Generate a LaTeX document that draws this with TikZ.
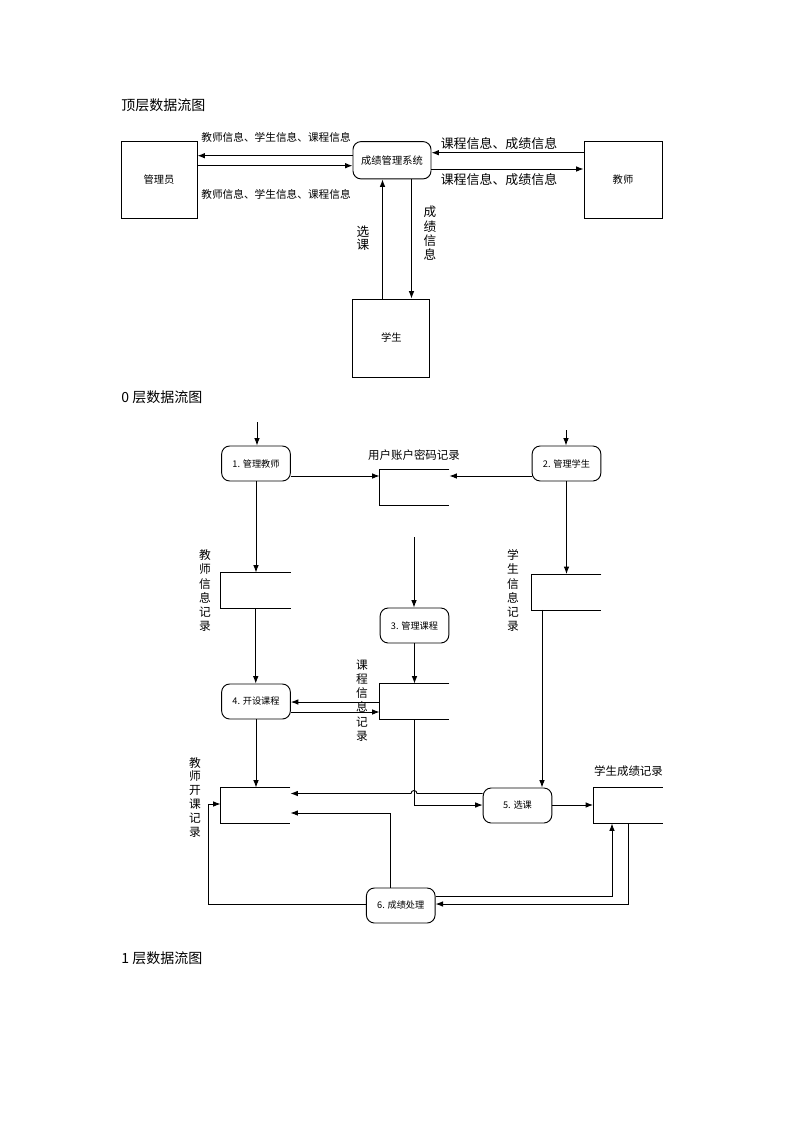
\documentclass[tikz,border=0pt]{standalone}
\usepackage{fontspec}
\setmainfont{Noto Sans CJK SC}
\usetikzlibrary{arrows.meta,calc}
\begin{document}
\begin{tikzpicture}[x=0.75pt,y=-0.75pt, line width=0.7pt,
  arr/.style={-{Latex[length=5.6pt,width=4.2pt]}},
  ent/.style={draw, rectangle, inner sep=0pt, font=\fontsize{7.7}{9}\selectfont},
  proc/.style={draw, rounded corners=6pt, inner sep=0pt, minimum width=51.5pt, minimum height=26.25pt, font=\fontsize{6.9}{8}\selectfont},
  store/.style={inner sep=0pt, minimum width=51.75pt, minimum height=26.25pt},
  vlab/.style={align=center, inner sep=0pt, font=\fontsize{8.8}{10.7}\selectfont},
  lab/.style={inner sep=0pt, font=\fontsize{8.6}{10}\selectfont},
  ttl/.style={anchor=west, inner sep=0pt, font=\fontsize{10.5}{12}\selectfont}]
\useasboundingbox[fill=white] (0,0) rectangle (793,1122);

% ---------- top level ----------
\node[ttl] (t0) at (121,105) {顶层数据流图};
\node[ent, minimum width=57pt, minimum height=57.75pt] (adm) at (159,179.5) {管理员};
\node[ent, minimum width=58.5pt, minimum height=57.75pt] (tch) at (623,179.5) {教师};
\node[ent, rounded corners=6pt, minimum width=58.5pt, minimum height=28pt] (sys) at (392,160.25) {成绩管理系统};
\node[ent, minimum width=57.75pt, minimum height=58.5pt] (stu) at (391.4,338) {学生};

\draw[arr] (sys.west |- 0,155.7) -- (adm.east |- 0,155.7);
\draw[arr] (adm.east |- 0,165.7) -- (sys.west |- 0,165.7);
\draw[arr] (tch.west |- 0,152.7) -- (sys.east |- 0,152.7);
\draw[arr] (sys.east |- 0,169) -- (tch.west |- 0,169);
\draw[arr] (stu.north -| 382.5,0) -- (sys.south -| 382.5,0);
\draw[arr] (sys.south -| 411.5,0) -- (stu.north -| 411.5,0);

\node[inner sep=0pt, font=\fontsize{8}{9}\selectfont] (l1) at (276,137.7) {教师信息、学生信息、课程信息};
\node[inner sep=0pt, font=\fontsize{8}{9}\selectfont] (l2) at (276,194) {教师信息、学生信息、课程信息};
\node[inner sep=0pt, font=\fontsize{9.7}{11}\selectfont] (l3) at (499,144) {课程信息、成绩信息};
\node[inner sep=0pt, font=\fontsize{9.7}{11}\selectfont] (l4) at (499,180) {课程信息、成绩信息};
\node[vlab, font=\fontsize{9.5}{10}\selectfont] (l5) at (363,238.3) {选\\课};
\node[vlab, font=\fontsize{9.5}{10.8}\selectfont] (l6) at (430,233.3) {成\\绩\\信\\息};

% ---------- level 0 ----------
\node[ttl] (t1) at (121,397) {0 层数据流图};

\node[proc] (p1) at (256,463.5) {1. 管理教师};
\node[proc] (p2) at (566.5,463.5) {2. 管理学生};
\node[proc] (p3) at (414.5,625.5) {3. 管理课程};
\node[proc] (p4) at (256,701.5) {4. 开设课程};
\node[proc] (p5) at (517.5,805.5) {5. 选课};
\node[proc] (p6) at (400.75,905.5) {6. 成绩处理};

\node[store] (d1) at (414.5,487.5) {};
\node[store] (d2) at (255.75,590.5) {};
\node[store] (d3) at (566.5,592) {};
\node[store] (d4) at (414.5,701.5) {};
\node[store] (d5) at (255.5,805.5) {};
\node[store] (d6) at (628,805.5) {};
\foreach \n in {d1,d2,d3,d4,d5,d6}
  \draw (\n.north east) -- (\n.north west) -- (\n.south west) -- (\n.south east);

\node[lab] (ld1) at (414,455) {用户账户密码记录};
\node[vlab] (ld2) at (205,590.8) {教\\师\\信\\息\\记\\录};
\node[vlab] (ld3) at (513,590.8) {学\\生\\信\\息\\记\\录};
\node[vlab, font=\fontsize{8.8}{10.65}\selectfont] (ld4) at (362,700.5) {课\\程\\信\\息\\记\\录};
\node[vlab, font=\fontsize{8.8}{10.35}\selectfont] (ld5) at (195,797.2) {教\\师\\开\\课\\记\\录};
\node[lab] (ld6) at (628.5,771) {学生成绩记录};

\coordinate (i1) at (257,422);
\coordinate (i2) at (566,430);
\coordinate (i3) at (414,537);
\draw[arr] (i1) -- (i1 |- p1.north);
\draw[arr] (i2) -- (i2 |- p2.north);
\draw[arr] (i3) -- (i3 |- p3.north);

\draw[arr] (p1.east |- 0,476) -- (d1.west |- 0,476);
\draw[arr] (p2.west |- 0,476) -- (d1.east |- 0,476);
\draw[arr] (p1.south) -- (p1.south |- d2.north);
\draw[arr] (p2.south) -- (p2.south |- d3.north);
\draw[arr] (d2.south) -- (d2.south |- p4.north);
\draw[arr] (p3.south) -- (p3.south |- d4.north);
\draw[arr] (d4.west |- 0,702) -- (p4.east |- 0,702);
\draw[arr] (p4.east |- 0,712) -- (d4.west |- 0,712);
\draw[arr] (p4.south) -- (p4.south |- d5.north);
\draw[arr] (d3.south -| 542,0) -- (p5.north -| 542,0);
\draw[arr] (d4.south -| 414,0) |- (p5.west |- 0,805);
\draw[arr] (p5.west |- 0,793.5) -- (417,793.5) arc[start angle=0, end angle=180, radius=2.25pt] -- (d5.east |- 0,793.5);
\draw[arr] (p5.east |- 0,805) -- (d6.west |- 0,805);
\draw[arr] (p6.north -| 390,0) |- (d5.east |- 0,813);
\draw[arr] (p6.west |- 0,904) -| (208,804) -- (d5.west |- 0,804);
\draw[arr] (p6.east |- 0,896) -| (d6.south -| 612,0);
\draw[arr] (d6.south -| 628,0) |- (p6.east |- 0,904);

% ---------- level 1 ----------
\node[ttl] (t2) at (121,958) {1 层数据流图};
\end{tikzpicture}
\end{document}
